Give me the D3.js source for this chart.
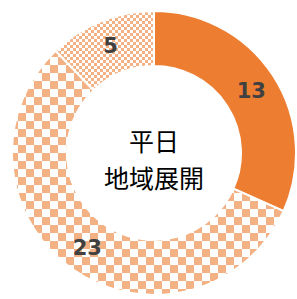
<!DOCTYPE html>
<html>
<head>
<meta charset="utf-8">
<script src="https://cdn.jsdelivr.net/npm/d3@7"></script>
<style>
  html, body { margin: 0; padding: 0; background: #fff; }
  svg { display: block; }
</style>
</head>
<body>
<svg id="chart"></svg>
<script>
const labels = ["13", "23", "5"];
const values = [13, 23, 5];
const fills = ["solid", "bigCheck", "smallCheck"];
const centerLines = ["平日", "地域展開"];

const width = 297, height = 299;
const cx = 154, cy = 153;
const outerR = 142, innerR = 87;

const svg = d3.select("#chart").attr("width", width).attr("height", height);
const defs = svg.append("defs");

function checker(id, cell, color) {
  const p = defs.append("pattern")
    .attr("id", id)
    .attr("patternUnits", "userSpaceOnUse")
    .attr("width", cell * 2).attr("height", cell * 2);
  p.append("rect").attr("width", cell * 2).attr("height", cell * 2).attr("fill", "#fff");
  p.append("rect").attr("width", cell).attr("height", cell).attr("fill", color);
  p.append("rect").attr("x", cell).attr("y", cell).attr("width", cell).attr("height", cell).attr("fill", color);
}
checker("bigCheck", 8, "#F4B183");
checker("smallCheck", 3, "#F4B183");

const colorMap = { solid: "#ED7D31", bigCheck: "url(#bigCheck)", smallCheck: "url(#smallCheck)" };

const pie = d3.pie().sort(null).value(d => d.v);
const arc = d3.arc().innerRadius(innerR).outerRadius(outerR);
const labelArc = d3.arc().innerRadius(116).outerRadius(116);

const data = values.map((v, i) => ({ v, label: labels[i], fill: fills[i] }));
const g = svg.append("g").attr("transform", `translate(${cx},${cy})`);

g.selectAll("path")
  .data(pie(data))
  .enter().append("path")
  .attr("d", arc)
  .attr("fill", d => colorMap[d.data.fill])
  .attr("stroke", "#fff")
  .attr("stroke-width", 2);

g.selectAll(".lbl")
  .data(pie(data))
  .enter().append("text")
  .attr("class", "lbl")
  .attr("transform", d => `translate(${labelArc.centroid(d)})`)
  .attr("text-anchor", "middle")
  .attr("dy", "0.36em")
  .attr("font-family", "'DejaVu Sans', sans-serif")
  .attr("font-weight", "bold")
  .attr("font-size", 21)
  .attr("fill", "#404040")
  .text(d => d.data.label);

g.selectAll(".center")
  .data(centerLines)
  .enter().append("text")
  .attr("class", "center")
  .attr("text-anchor", "middle")
  .attr("y", (d, i) => -2 + i * 37)
  .attr("font-family", "'Noto Sans CJK JP', sans-serif")
  .attr("font-size", 25)
  .attr("fill", "#000")
  .text(d => d);
</script>
</body>
</html>
